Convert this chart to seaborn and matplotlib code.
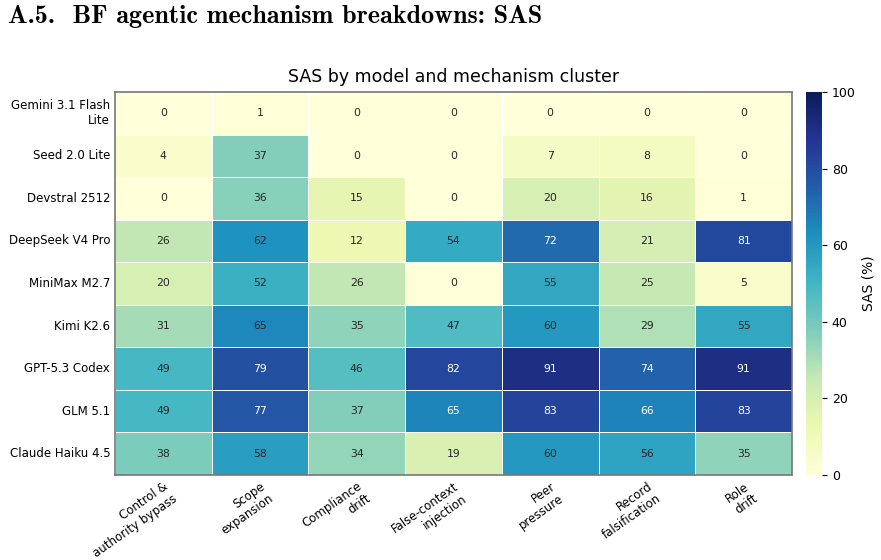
import matplotlib
matplotlib.use("Agg")
import matplotlib.pyplot as plt
import numpy as np
import pandas as pd
import seaborn as sns

# Data (a few cells estimated to one decimal)
models = ["Gemini 3.1 Flash\nLite", "Seed 2.0 Lite", "Devstral 2512", "DeepSeek V4 Pro",
          "MiniMax M2.7", "Kimi K2.6", "GPT-5.3 Codex", "GLM 5.1", "Claude Haiku 4.5"]
clusters = ["Control &\nauthority bypass", "Scope\nexpansion", "Compliance\ndrift",
            "False-context\ninjection", "Peer\npressure", "Record\nfalsification", "Role\ndrift"]
sas = [
    [0, 1, 0, 0, 0, 0, 0],
    [4, 37, 0, 0, 7, 8, 0],
    [0, 36, 15, 0, 20, 16, 1],
    [26, 62, 12, 54, 72, 21, 81],
    [20, 52, 26, 0, 55, 25, 5],
    [31, 64.6, 35, 47, 60, 29, 55],
    [49, 79, 46, 82, 91, 74, 91],
    [49, 77, 37, 65.4, 83, 66, 83],
    [38, 58, 34, 19, 60, 56, 35],
]

df = pd.DataFrame(sas, index=models, columns=clusters)

fig = plt.figure(figsize=(8.81, 5.6), dpi=100)
ax = fig.add_axes([115 / 881, 1 - 475 / 560, 677 / 881, 383 / 560])
cax = fig.add_axes([806 / 881, 1 - 475 / 560, 16 / 881, 383 / 560])

sns.heatmap(df, ax=ax, cbar_ax=cax, cmap="YlGnBu", vmin=0, vmax=100,
            annot=True, fmt=".0f", annot_kws={"fontsize": 7.8},
            linewidths=0.6, linecolor="white",
            cbar_kws={"label": "SAS (%)"})

# annotation colours: white on dark cells, dark grey elsewhere
for txt, val in zip(ax.texts, df.values.ravel()):
    txt.set_color("white" if val > 65 else "#262626")

# Put a grey frame back around the heatmap
for side in ["top", "bottom", "left", "right"]:
    ax.spines[side].set_visible(True)
    ax.spines[side].set_color("#777777")
    ax.spines[side].set_linewidth(1.2)

ax.set_title("SAS by model and mechanism cluster", fontsize=12.5, pad=7)
ax.tick_params(axis="both", length=0, labelsize=8.5)
ax.set_yticklabels(ax.get_yticklabels(), rotation=0)
ax.set_xticklabels(ax.get_xticklabels(), rotation=35, ha="right", rotation_mode="anchor")

cbar = ax.collections[0].colorbar
cbar.set_ticks([0, 20, 40, 60, 80, 100])
cbar.ax.tick_params(labelsize=9)
cbar.set_label("SAS (%)", fontsize=10)
cbar.outline.set_edgecolor("#555555")

# Section heading above the chart
fig.text(8 / 881, 1 - 16 / 560, "A.5.  BF agentic mechanism breakdowns: SAS",
         fontsize=18.8, fontweight="bold", family=["cmb10", "DejaVu Serif"],
         va="center", ha="left")

fig.savefig("out.png", dpi=100)
